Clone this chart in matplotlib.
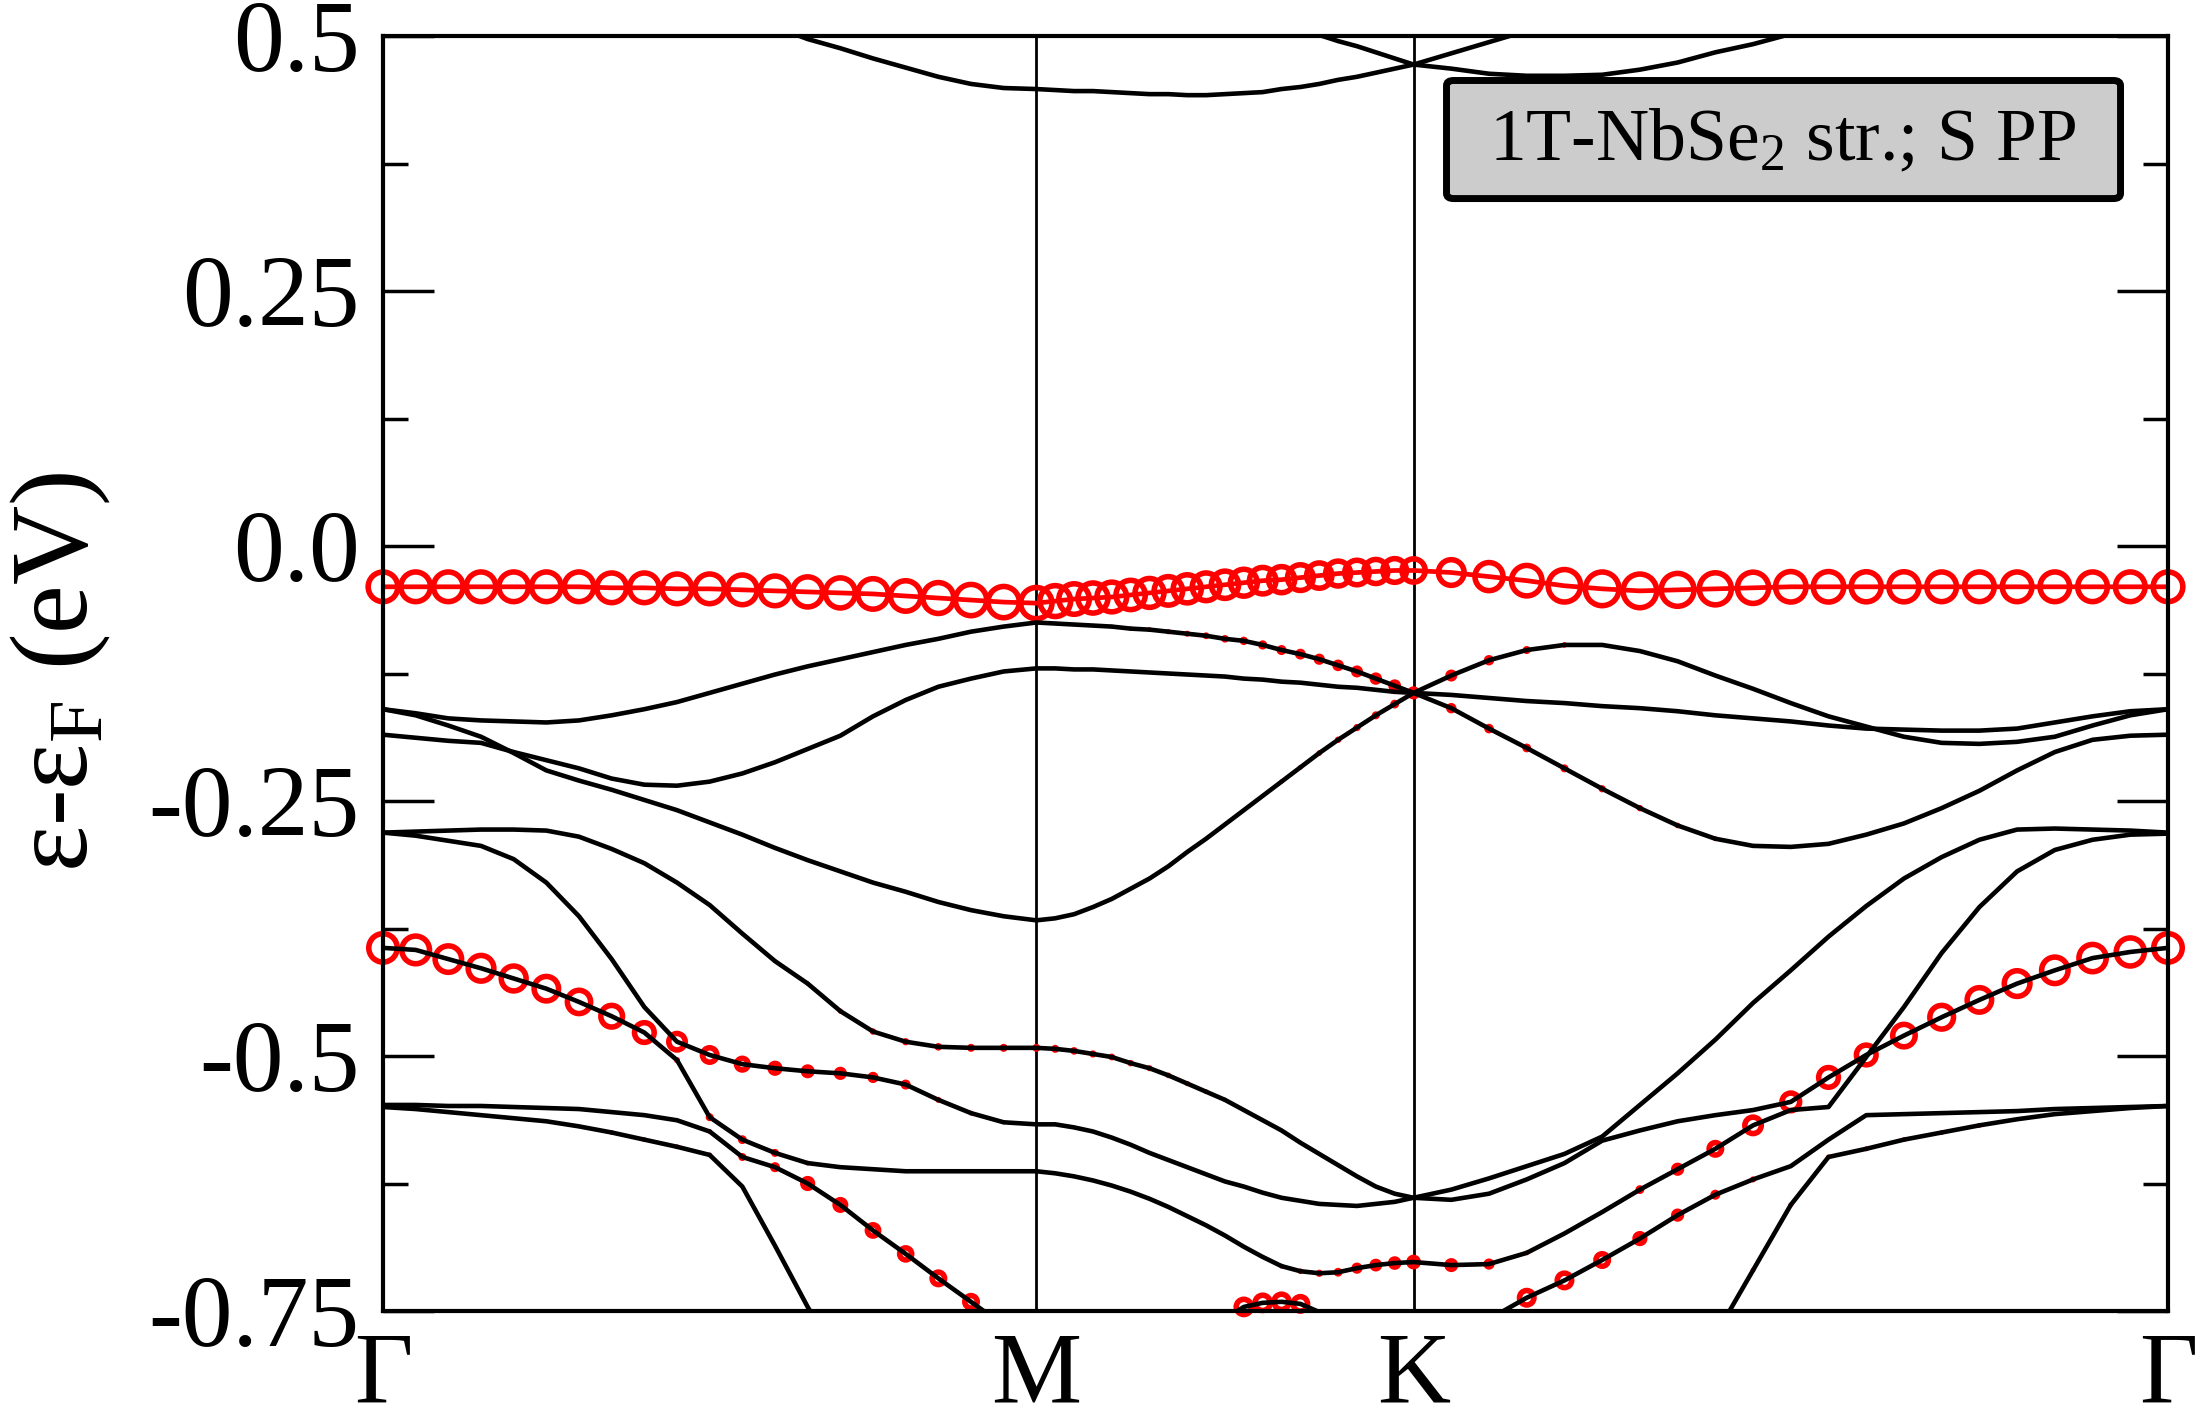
import numpy as np
import matplotlib
matplotlib.use('Agg')
import matplotlib.pyplot as plt
from matplotlib.patches import FancyBboxPatch
from matplotlib.ticker import AutoMinorLocator

# ---------------- data ----------------
path_labels = ['Γ', 'M', 'K', 'Γ']
segment_lengths = [0.866, 0.5, 1.0]     # |ΓM| : |MK| : |KΓ|
n_intervals = 20                        # k-points per segment

yticks = [0.5, 0.25, 0.0, -0.25, -0.5, -0.75]
ytick_labels = ['0.5', '0.25', '0.0', '-0.25', '-0.5', '-0.75']
ylabel_text = r'ε-ε$_\mathrm{F}$ (eV)'
legend_text = r'1T-NbSe$_2$ str.; S PP'

# energies (eV): Γ-M (21 pts), M-K (20 pts), K-Γ (20 pts)
band_B = ([0.78, 0.78, 0.77, 0.77, 0.76, 0.75, 0.74, 0.73, 0.72, 0.71, 0.70, 0.69, 0.68, 0.67, 0.66, 0.65, 0.64, 0.63, 0.62, 0.62, 0.62]
          + [0.61, 0.60, 0.59, 0.58, 0.57, 0.56, 0.555, 0.548, 0.541, 0.535, 0.529, 0.523, 0.515, 0.507, 0.501, 0.495, 0.490, 0.484, 0.478, 0.472]
          + [0.483, 0.494, 0.505, 0.516, 0.527, 0.54, 0.55, 0.56, 0.57, 0.58, 0.59, 0.60, 0.62, 0.64, 0.66, 0.68, 0.70, 0.72, 0.75, 0.78])
band_A = ([0.70, 0.69, 0.68, 0.67, 0.65, 0.63, 0.61, 0.59, 0.57, 0.55, 0.535, 0.522, 0.509, 0.497, 0.488, 0.478, 0.469, 0.460, 0.453, 0.449, 0.448]
          + [0.447, 0.446, 0.446, 0.445, 0.444, 0.443, 0.443, 0.442, 0.442, 0.443, 0.444, 0.445, 0.448, 0.450, 0.453, 0.457, 0.460, 0.464, 0.468, 0.472]
          + [0.468, 0.463, 0.461, 0.461, 0.462, 0.467, 0.474, 0.484, 0.492, 0.502, 0.512, 0.524, 0.537, 0.55, 0.565, 0.58, 0.60, 0.62, 0.65, 0.70])
band_fermi = ([-0.040, -0.040, -0.040, -0.040, -0.040, -0.040, -0.040, -0.041, -0.041, -0.042, -0.042, -0.043, -0.044, -0.045, -0.046, -0.047, -0.049, -0.051, -0.053, -0.055, -0.056]
              + [-0.054, -0.052, -0.051, -0.050, -0.048, -0.046, -0.044, -0.042, -0.040, -0.038, -0.036, -0.034, -0.033, -0.031, -0.029, -0.027, -0.026, -0.025, -0.024, -0.024]
              + [-0.026, -0.030, -0.034, -0.039, -0.042, -0.044, -0.043, -0.042, -0.041, -0.040, -0.040, -0.040, -0.040, -0.040, -0.040, -0.040, -0.040, -0.040, -0.040, -0.040])
band_C = ([-0.160, -0.164, -0.169, -0.171, -0.172, -0.173, -0.171, -0.166, -0.160, -0.153, -0.144, -0.135, -0.126, -0.118, -0.111, -0.104, -0.097, -0.091, -0.084, -0.079, -0.075]
          + [-0.076, -0.077, -0.078, -0.079, -0.081, -0.082, -0.084, -0.086, -0.088, -0.091, -0.093, -0.097, -0.102, -0.106, -0.111, -0.117, -0.123, -0.130, -0.137, -0.144]
          + [-0.127, -0.112, -0.102, -0.097, -0.097, -0.103, -0.113, -0.127, -0.140, -0.154, -0.167, -0.177, -0.187, -0.193, -0.194, -0.192, -0.187, -0.176, -0.166, -0.160])
band_E = ([-0.185, -0.188, -0.191, -0.193, -0.202, -0.210, -0.218, -0.228, -0.234, -0.235, -0.231, -0.223, -0.212, -0.199, -0.186, -0.167, -0.151, -0.138, -0.130, -0.123, -0.120]
          + [-0.120, -0.121, -0.121, -0.122, -0.123, -0.124, -0.125, -0.126, -0.127, -0.128, -0.130, -0.131, -0.133, -0.134, -0.136, -0.138, -0.139, -0.141, -0.143, -0.144]
          + [-0.146, -0.149, -0.152, -0.154, -0.157, -0.159, -0.162, -0.166, -0.169, -0.172, -0.176, -0.179, -0.180, -0.181, -0.181, -0.179, -0.173, -0.167, -0.162, -0.160])
band_D = ([-0.160, -0.166, -0.176, -0.187, -0.203, -0.220, -0.230, -0.239, -0.249, -0.259, -0.271, -0.283, -0.296, -0.308, -0.319, -0.330, -0.339, -0.349, -0.357, -0.363, -0.367]
          + [-0.365, -0.361, -0.354, -0.346, -0.336, -0.326, -0.314, -0.300, -0.287, -0.273, -0.259, -0.245, -0.231, -0.217, -0.203, -0.190, -0.178, -0.166, -0.155, -0.144]
          + [-0.159, -0.179, -0.198, -0.218, -0.238, -0.257, -0.274, -0.287, -0.294, -0.295, -0.292, -0.283, -0.272, -0.257, -0.240, -0.220, -0.202, -0.190, -0.186, -0.185])
band_F = ([-0.281, -0.280, -0.279, -0.278, -0.278, -0.279, -0.285, -0.297, -0.311, -0.330, -0.352, -0.380, -0.407, -0.429, -0.456, -0.476, -0.486, -0.491, -0.492, -0.492, -0.492]
          + [-0.493, -0.495, -0.498, -0.501, -0.507, -0.512, -0.519, -0.527, -0.535, -0.543, -0.553, -0.563, -0.573, -0.585, -0.596, -0.607, -0.618, -0.628, -0.635, -0.639]
          + [-0.631, -0.620, -0.608, -0.596, -0.579, -0.548, -0.517, -0.484, -0.448, -0.416, -0.383, -0.353, -0.326, -0.305, -0.288, -0.278, -0.277, -0.278, -0.279, -0.281])
band_G = ([-0.281, -0.284, -0.289, -0.294, -0.307, -0.330, -0.363, -0.405, -0.452, -0.486, -0.499, -0.508, -0.512, -0.515, -0.517, -0.521, -0.528, -0.543, -0.556, -0.565, -0.567]
          + [-0.567, -0.570, -0.574, -0.580, -0.587, -0.595, -0.602, -0.609, -0.616, -0.623, -0.628, -0.634, -0.639, -0.642, -0.645, -0.646, -0.647, -0.645, -0.643, -0.639]
          + [-0.641, -0.635, -0.621, -0.605, -0.583, -0.573, -0.564, -0.558, -0.553, -0.545, -0.521, -0.499, -0.480, -0.462, -0.445, -0.429, -0.416, -0.404, -0.398, -0.394])
band_H = ([-0.394, -0.396, -0.405, -0.414, -0.424, -0.434, -0.447, -0.461, -0.477, -0.504, -0.560, -0.582, -0.595, -0.605, -0.609, -0.611, -0.613, -0.613, -0.613, -0.613, -0.613]
          + [-0.615, -0.618, -0.622, -0.627, -0.633, -0.640, -0.648, -0.657, -0.666, -0.676, -0.687, -0.697, -0.706, -0.711, -0.713, -0.712, -0.708, -0.705, -0.703, -0.702]
          + [-0.705, -0.704, -0.693, -0.674, -0.653, -0.631, -0.611, -0.591, -0.568, -0.553, -0.550, -0.501, -0.452, -0.399, -0.354, -0.319, -0.298, -0.288, -0.283, -0.282])
band_J = ([-0.548, -0.548, -0.549, -0.549, -0.550, -0.551, -0.552, -0.555, -0.558, -0.563, -0.574, -0.599, -0.609, -0.625, -0.646, -0.671, -0.694, -0.718, -0.741, -0.764, -0.787]
          + [-0.800, -0.810, -0.815, -0.815, -0.810, -0.800, -0.790, -0.780, -0.770, -0.758, -0.746, -0.742, -0.741, -0.743, -0.751, -0.757, -0.767, -0.777, -0.787, -0.795]
          + [-0.785, -0.758, -0.737, -0.720, -0.700, -0.679, -0.656, -0.636, -0.621, -0.608, -0.582, -0.558, -0.557, -0.556, -0.555, -0.554, -0.552, -0.551, -0.550, -0.549])
band_L = ([-0.550, -0.552, -0.555, -0.558, -0.561, -0.564, -0.569, -0.575, -0.582, -0.589, -0.597, -0.628, -0.686, -0.746, -0.800, -0.850, -0.890, -0.920, -0.940, -0.950, -0.950]
          + [-0.950, -0.950, -0.950, -0.940, -0.930, -0.920, -0.910, -0.900, -0.890, -0.880, -0.870, -0.860, -0.860, -0.860, -0.870, -0.880, -0.890, -0.900, -0.910, -0.920]
          + [-0.920, -0.910, -0.900, -0.890, -0.870, -0.850, -0.820, -0.774, -0.710, -0.646, -0.599, -0.591, -0.582, -0.575, -0.568, -0.562, -0.557, -0.554, -0.551, -0.549])

# S-projected weights (fat-band marker size, 1 = largest)
w_fermi = ([0.88, 0.88, 0.88, 0.88, 0.88, 0.88, 0.88, 0.88, 0.88, 0.88, 0.88, 0.88, 0.88, 0.89, 0.89, 0.90, 0.90, 0.91, 0.92, 0.92, 0.92]
           + [0.91, 0.90, 0.89, 0.88, 0.87, 0.86, 0.85, 0.84, 0.83, 0.82, 0.81, 0.80, 0.79, 0.78, 0.77, 0.76, 0.75, 0.74, 0.73, 0.72]
           + [0.78, 0.84, 0.90, 0.95, 0.98, 0.98, 0.96, 0.94, 0.92, 0.90, 0.90, 0.89, 0.89, 0.88, 0.88, 0.88, 0.88, 0.88, 0.88, 0.88])
w_C = ([0.03, 0.03, 0.03, 0.04, 0.05, 0.06, 0.07, 0.07, 0.07, 0.07, 0.07, 0.07, 0.07, 0.07, 0.07, 0.07, 0.07, 0.07, 0.07, 0.07, 0.07]
       + [0.07, 0.08, 0.09, 0.10, 0.11, 0.12, 0.13, 0.15, 0.17, 0.19, 0.21, 0.23, 0.25, 0.27, 0.28, 0.29, 0.30, 0.31, 0.32, 0.33]
       + [0.30, 0.26, 0.20, 0.14, 0.10, 0.07, 0.06, 0.05, 0.05, 0.05, 0.05, 0.05, 0.05, 0.05, 0.05, 0.05, 0.05, 0.05, 0.05, 0.05])
w_E = ([0.04] * 21 + [0.04] * 16 + [0.06, 0.08, 0.09, 0.10]
       + [0.09, 0.08, 0.07, 0.06, 0.06, 0.06, 0.06, 0.06, 0.06, 0.06, 0.06, 0.06, 0.06, 0.06, 0.05, 0.05, 0.05, 0.05, 0.05, 0.05])
w_D = ([0.04] * 21
       + [0.05, 0.05, 0.05, 0.05, 0.05, 0.05, 0.06, 0.06, 0.07, 0.08, 0.09, 0.10, 0.11, 0.12, 0.14, 0.16, 0.18, 0.20, 0.22, 0.25]
       + [0.26, 0.24, 0.22, 0.20, 0.18, 0.16, 0.14, 0.12, 0.10, 0.08, 0.07, 0.06, 0.05, 0.05, 0.05, 0.05, 0.05, 0.05, 0.05, 0.05])
w_F = ([0.04, 0.05, 0.06, 0.06, 0.06, 0.06, 0.06, 0.06, 0.06, 0.07, 0.08, 0.09, 0.10, 0.11, 0.13, 0.16, 0.18, 0.19, 0.20, 0.20, 0.20]
       + [0.20, 0.19, 0.18, 0.17, 0.16, 0.15, 0.14, 0.13, 0.12, 0.11, 0.10, 0.09, 0.08, 0.07, 0.06, 0.05, 0.05, 0.05, 0.05, 0.05]
       + [0.04] * 20)
w_G = ([0.03, 0.03, 0.03, 0.03, 0.03, 0.03, 0.03, 0.03, 0.05, 0.55, 0.50, 0.43, 0.38, 0.35, 0.33, 0.28, 0.25, 0.15, 0.12, 0.10, 0.10]
       + [0.09, 0.08, 0.07, 0.06, 0.05, 0.05, 0.05, 0.05, 0.05, 0.05, 0.05, 0.05, 0.05, 0.05, 0.05, 0.05, 0.05, 0.05, 0.05, 0.05]
       + [0.05, 0.05, 0.05, 0.05, 0.05, 0.05, 0.05, 0.05, 0.10, 0.58, 0.63, 0.63, 0.70, 0.73, 0.75, 0.78, 0.80, 0.82, 0.84, 0.85])
w_H = ([0.85, 0.83, 0.80, 0.78, 0.76, 0.75, 0.72, 0.68, 0.63, 0.15, 0.20, 0.22, 0.20, 0.12, 0.06, 0.05, 0.05, 0.05, 0.05, 0.05, 0.05]
       + [0.05, 0.05, 0.05, 0.05, 0.05, 0.05, 0.05, 0.05, 0.06, 0.07, 0.08, 0.10, 0.12, 0.14, 0.18, 0.22, 0.28, 0.32, 0.34, 0.37]
       + [0.35, 0.28, 0.12, 0.08, 0.10, 0.22, 0.33, 0.45, 0.55, 0.05, 0.03, 0.03, 0.03, 0.03, 0.03, 0.03, 0.03, 0.03, 0.03, 0.03])
w_J = ([0.03, 0.03, 0.03, 0.03, 0.03, 0.03, 0.03, 0.03, 0.05, 0.08, 0.12, 0.20, 0.25, 0.38, 0.40, 0.42, 0.44, 0.45, 0.45, 0.45, 0.45]
       + [0.45, 0.45, 0.45, 0.45, 0.45, 0.45, 0.45, 0.45, 0.48, 0.50, 0.52, 0.52, 0.52, 0.50, 0.50, 0.50, 0.50, 0.50, 0.50, 0.50]
       + [0.50, 0.50, 0.50, 0.50, 0.45, 0.38, 0.33, 0.25, 0.15, 0.08, 0.05, 0.04, 0.04, 0.04, 0.04, 0.04, 0.04, 0.04, 0.04, 0.04])
w_L = ([0.0, 0.0, 0.0, 0.0, 0.0, 0.0, 0.0, 0.12, 0.12, 0.12, 0.12, 0.0, 0.0, 0.0, 0.0, 0.0, 0.0, 0.0, 0.0, 0.0, 0.0]
       + [0.0] * 20
       + [0.0, 0.0, 0.0, 0.0, 0.0, 0.0, 0.0, 0.0, 0.12, 0.12, 0.12, 0.12, 0.12, 0.12, 0.12, 0.0, 0.0, 0.0, 0.0, 0.0])

black_bands = [band_B, band_A, band_C, band_E, band_D, band_F, band_G, band_H, band_J, band_L]
fat_sets = [(band_C, w_C), (band_E, w_E), (band_D, w_D), (band_F, w_F), (band_G, w_G),
            (band_H, w_H), (band_J, w_J), (band_L, w_L), (band_fermi, w_fermi)]

# ---------------- style ----------------
plt.rcParams['font.family'] = ['Liberation Serif', 'DejaVu Serif']
plt.rcParams['mathtext.fontset'] = 'custom'
plt.rcParams['mathtext.rm'] = 'Liberation Serif'
plt.rcParams['mathtext.it'] = 'Liberation Serif:italic'
plt.rcParams['mathtext.bf'] = 'Liberation Serif:bold'

DPI = 100
FS = 73
MAX_D_PX = 40.0

# k-path
nodes = np.concatenate([[0.0], np.cumsum(segment_lengths)])
k = np.concatenate([np.linspace(nodes[0], nodes[1], n_intervals + 1),
                    np.linspace(nodes[1], nodes[2], n_intervals + 1)[1:],
                    np.linspace(nodes[2], nodes[3], n_intervals + 1)[1:]])

fig = plt.figure(figsize=(22, 14.08), dpi=DPI)
ax = fig.add_axes([383 / 2200, 1 - 1311 / 1408, (2168 - 383) / 2200, (1311 - 36) / 1408])

ymin, ymax = -0.75, 0.5

# fat-band markers
for energies, weights in fat_sets:
    e = np.asarray(energies)
    w = np.asarray(weights)
    d_px = w * MAX_D_PX
    m = (w > 0.0) & (e >= ymin - 0.0005) & (e <= ymax + 0.01) & (d_px >= 2.0)
    lw_pt = np.minimum(4.0, 0.38 * d_px[m] * 72 / DPI)
    size_pt = np.maximum(d_px[m] * 72 / DPI - lw_pt, 0.5)
    ax.scatter(k[m], e[m], s=size_pt ** 2, facecolors='none', edgecolors='#ff0000',
               linewidths=lw_pt, zorder=3, clip_on=False)

# band lines
for energies in black_bands:
    ax.plot(k, energies, color='black', lw=3.3, zorder=4)
ax.plot(k, band_fermi, color='#ff0000', lw=3.4, zorder=5)

for xv in nodes[1:-1]:
    ax.axvline(xv, color='black', lw=2.0, zorder=2)

ax.set_xlim(nodes[0], nodes[-1])
ax.set_ylim(ymin, ymax)

ax.set_xticks(nodes)
ax.set_xticklabels(path_labels)
ax.tick_params(axis='x', length=0, pad=15, labelsize=FS)

ax.set_yticks(yticks)
ax.set_yticklabels(ytick_labels)
ax.yaxis.set_minor_locator(AutoMinorLocator(2))
ax.tick_params(axis='y', which='major', direction='in', length=36.5, width=2.5,
               left=True, right=True, labelsize=FS, pad=17)
ax.tick_params(axis='y', which='minor', direction='in', length=18, width=2.5,
               left=True, right=True)

for sp in ax.spines.values():
    sp.set_linewidth(3.0)
    sp.set_zorder(6)

fig.text(60 / 2200, 1 - 672 / 1408, ylabel_text, rotation=90, ha='center', va='center',
         fontsize=79)

# legend box
box = FancyBboxPatch((0.5958, 0.8725), 0.9734 - 0.5958, 0.9651 - 0.8725,
                     boxstyle='round,pad=0,rounding_size=0.004',
                     transform=ax.transAxes, facecolor='#cccccc', edgecolor='black',
                     linewidth=5.0, zorder=10, clip_on=False)
ax.add_patch(box)
ax.text(0.7843, 0.9027, legend_text, transform=ax.transAxes, ha='center', va='baseline',
        fontsize=53, zorder=11)

fig.savefig('out.png', dpi=DPI)
